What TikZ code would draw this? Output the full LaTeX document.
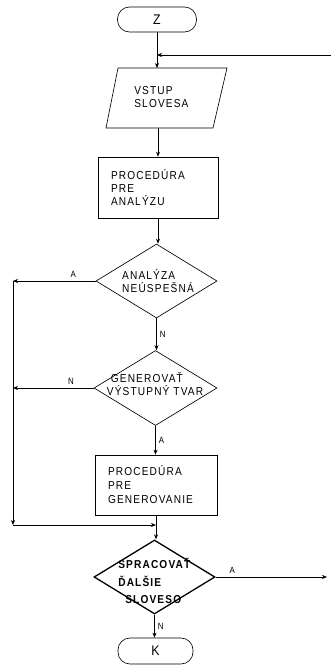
\documentclass[tikz,border=0pt]{standalone}
\usepackage{fontspec}
\setmainfont{Liberation Sans}[LetterSpace=10, FakeStretch=0.88]
\usetikzlibrary{shapes.geometric,arrows.meta}
\begin{document}
\begin{tikzpicture}[x=1pt,y=-1pt,
  line width=0.65pt,
  >={Stealth[length=5pt,width=4pt]},
  txt/.style={font=\fontsize{11.5}{13}\selectfont, inner sep=0pt, align=left},
  lbl/.style={font=\fontsize{9}{10}\selectfont, inner sep=0pt},
  term/.style={draw, rectangle, rounded corners=12pt, font=\fontsize{14}{15}\selectfont},
  box/.style={draw, rectangle, txt, inner xsep=13pt, align=left},
  dia/.style={draw, diamond, inner sep=0pt}]
\useasboundingbox (0,0) rectangle (331,667);

% nodes
\node[term, minimum width=79pt, minimum height=25pt] (z) at (157,19.5) {Z};
\coordinate (pnw) at (118,68);
\coordinate (pne) at (227,68);
\coordinate (pse) at (213,128);
\coordinate (psw) at (106,128);
\draw (pnw) -- (pne) -- (pse) -- (psw) -- cycle;
\node[txt, anchor=west] (pt) at (134,97) {VSTUP\\SLOVESA};
\node[box, text width=94pt, minimum height=61pt] (r1) at (158,187.5) {PROCEDÚRA\\PRE\\ANALÝZU};
\node[dia, minimum width=121pt, minimum height=74pt] (d1) at (156.5,281) {};
\node[txt] (d1t) at (158,281) {ANALÝZA\\NEÚSPEŠNÁ};
\node[dia, minimum width=123pt, minimum height=75pt] (d2) at (155.5,388) {};
\node[txt] (d2t) at (155,384) {\hspace{4pt}GENEROVAŤ\\VÝSTUPNÝ TVAR};
\node[box, text width=96pt, minimum height=60pt, font=\fontsize{11.5}{14}\selectfont] (r2) at (156,485) {PROCEDÚRA\\PRE\\GENEROVANIE};
\node[dia, minimum width=121pt, minimum height=74pt, line width=1.3pt] (d3) at (154.5,577) {};
\node[txt, font=\fontsize{11.5}{17.5}\selectfont\bfseries, anchor=north west] (d3t) at (118,558)
  {SPRACOVAŤ\\ĎALŠIE\\\hspace{7pt}SLOVESO};
\node[term, minimum width=75pt, minimum height=26pt] (k) at (155.5,651) {K};

% connector points
\coordinate (tin) at (331,55);
\coordinate (c1) at (13,281);
\coordinate (c2) at (13,525);
\coordinate (m) at (r2.south |- c2);
\coordinate (e) at (327,577);

% connectors
\draw[->] (z.south) -- (z.south |- pnw);
\draw[->, line width=0.5pt] (tin) -- (tin -| z.south);
\draw[->] (psw -| r1.north) -- (r1.north);
\draw[->] (r1.south) -- (r1.south |- d1.north);
\draw[->] (d1.west) -- node[lbl, above, pos=0.27, yshift=3pt] {A} (c1);
\draw[->] (d1.south) -- node[lbl, right, xshift=3pt] {N} (d1.south |- d2.north);
\draw[->] (d2.west) -- node[lbl, above, pos=0.28, yshift=3pt] {N} (d2.west -| c1);
\draw[->] (d2.south) -- node[lbl, right, xshift=3pt] {A} (d2.south |- r2.north);
\draw[->] (c1) -- (c2);
\draw[->] (c2) -- (m);
\draw[->] (r2.south) -- (r2.south |- d3.north);
\draw[->, line width=0.5pt] (d3.east) -- node[lbl, above, pos=0.15, yshift=3pt] {A} (e);
\draw[->] (d3.south) -- node[lbl, right, xshift=3pt] {N} (d3.south |- k.north);
\end{tikzpicture}
\end{document}
